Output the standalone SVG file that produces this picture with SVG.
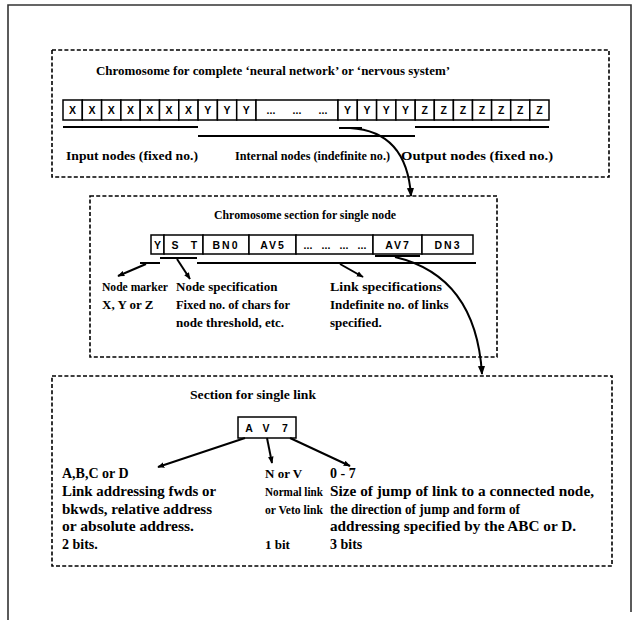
<svg xmlns="http://www.w3.org/2000/svg" width="632" height="620" viewBox="0 0 632 620">
<defs>
<marker id="ah" viewBox="0 0 10 10" refX="9" refY="5" markerWidth="7" markerHeight="7" orient="auto" markerUnits="userSpaceOnUse">
<path d="M0,1 L10,5 L0,9 z" fill="#000"/>
</marker>
<marker id="ahb" viewBox="0 0 10 10" refX="9" refY="5" markerWidth="9" markerHeight="9" orient="auto" markerUnits="userSpaceOnUse">
<path d="M0,1 L10,5 L0,9 z" fill="#000"/>
</marker>
</defs>
<style>
text{font-family:"Liberation Serif","Times New Roman",serif;font-weight:bold;font-size:13px;fill:#000}
.big{font-size:14px}
.cell{fill:#fff;stroke:#000;stroke-width:1.5}
.ct{font-family:"Liberation Sans",Arial,sans-serif;font-size:10.5px;text-anchor:middle}
.box{fill:none;stroke:#000;stroke-width:1.6;stroke-dasharray:4 2.2}
.ul{stroke:#000;stroke-width:2;fill:none}
.ar{stroke:#000;stroke-width:2;fill:none;marker-end:url(#ah)}
.cv{stroke:#000;stroke-width:2;fill:none;marker-end:url(#ahb)}
</style>
<rect width="632" height="620" fill="#fff"/>
<path d="M8,620 V5 H631 V612" fill="none" stroke="#333" stroke-width="1.6"/>

<g id="chromosome-box">
<rect class="box" x="52" y="50" width="557" height="127"/>
<text x="96" y="75" textLength="354" lengthAdjust="spacingAndGlyphs">Chromosome for complete ‘neural network’ or ‘nervous system’</text>
<g id="chromosome-row">
<rect class="cell" x="63" y="100" width="19.3" height="20"/><text class="ct" x="72.6" y="114">X</text>
<rect class="cell" x="82.3" y="100" width="19.3" height="20"/><text class="ct" x="91.9" y="114">X</text>
<rect class="cell" x="101.6" y="100" width="19.3" height="20"/><text class="ct" x="111.2" y="114">X</text>
<rect class="cell" x="120.9" y="100" width="19.3" height="20"/><text class="ct" x="130.5" y="114">X</text>
<rect class="cell" x="140.2" y="100" width="19.3" height="20"/><text class="ct" x="149.8" y="114">X</text>
<rect class="cell" x="159.5" y="100" width="19.3" height="20"/><text class="ct" x="169.1" y="114">X</text>
<rect class="cell" x="178.8" y="100" width="19.3" height="20"/><text class="ct" x="188.4" y="114">X</text>
<rect class="cell" x="198.1" y="100" width="19.3" height="20"/><text class="ct" x="207.7" y="114">Y</text>
<rect class="cell" x="217.4" y="100" width="19.3" height="20"/><text class="ct" x="227" y="114">Y</text>
<rect class="cell" x="236.7" y="100" width="19.3" height="20"/><text class="ct" x="246.3" y="114">Y</text>
<rect class="cell" x="256" y="100" width="82" height="20"/>
<text class="ct" x="271" y="114">...</text><text class="ct" x="297" y="114">...</text><text class="ct" x="323" y="114">...</text>
<rect class="cell" x="338" y="100" width="19.3" height="20"/><text class="ct" x="347.6" y="114">Y</text>
<rect class="cell" x="357.3" y="100" width="19.3" height="20"/><text class="ct" x="366.9" y="114">Y</text>
<rect class="cell" x="376.6" y="100" width="19.3" height="20"/><text class="ct" x="386.2" y="114">Y</text>
<rect class="cell" x="395.9" y="100" width="19.3" height="20"/><text class="ct" x="405.5" y="114">Y</text>
<rect class="cell" x="415.2" y="100" width="19.1" height="20"/><text class="ct" x="424.7" y="114">Z</text>
<rect class="cell" x="434.3" y="100" width="19.1" height="20"/><text class="ct" x="443.8" y="114">Z</text>
<rect class="cell" x="453.4" y="100" width="19.1" height="20"/><text class="ct" x="462.9" y="114">Z</text>
<rect class="cell" x="472.5" y="100" width="19.1" height="20"/><text class="ct" x="482" y="114">Z</text>
<rect class="cell" x="491.6" y="100" width="19.1" height="20"/><text class="ct" x="501.1" y="114">Z</text>
<rect class="cell" x="510.7" y="100" width="19.1" height="20"/><text class="ct" x="520.2" y="114">Z</text>
<rect class="cell" x="529.8" y="100" width="19.2" height="20"/><text class="ct" x="539.4" y="114">Z</text>
</g>
<text x="66" y="160" textLength="132" lengthAdjust="spacingAndGlyphs">Input nodes (fixed no.)</text>
<text x="235" y="160" textLength="155" lengthAdjust="spacingAndGlyphs">Internal nodes (indefinite no.)</text>
<text x="401" y="160" textLength="152" lengthAdjust="spacingAndGlyphs">Output nodes (fixed no.)</text>
</g>

<g id="node-section-box">
<rect class="box" x="90" y="196" width="407" height="161"/>
<text x="214" y="219" textLength="182" lengthAdjust="spacingAndGlyphs">Chromosome section for single node</text>
<g id="node-row">
<rect class="cell" x="151" y="235" width="13" height="19"/><text class="ct" x="157.5" y="249">Y</text>
<rect class="cell" x="164" y="235" width="39" height="19"/><text class="ct" x="175" y="249">S</text><text class="ct" x="194" y="249">T</text>
<rect class="cell" x="203" y="235" width="46" height="19"/><text class="ct" x="226" y="249" letter-spacing="2">BN0</text>
<rect class="cell" x="249" y="235" width="47" height="19"/><text class="ct" x="273" y="249" letter-spacing="2">AV5</text>
<rect class="cell" x="296" y="235" width="77" height="19"/>
<text class="ct" x="308" y="249">...</text><text class="ct" x="326" y="249">...</text><text class="ct" x="344" y="249">...</text><text class="ct" x="362" y="249">...</text>
<rect class="cell" x="373" y="235" width="49" height="19"/><text class="ct" x="398" y="249" letter-spacing="2">AV7</text>
<rect class="cell" x="422" y="235" width="51" height="19"/><text class="ct" x="448" y="249" letter-spacing="2">DN3</text>
</g>
<text x="102" y="291" textLength="66" lengthAdjust="spacingAndGlyphs">Node marker</text>
<text x="102" y="309">X, Y or Z</text>
<text x="176" y="291">Node specification</text>
<text x="176" y="309" textLength="114" lengthAdjust="spacingAndGlyphs">Fixed no. of chars for</text>
<text x="176" y="327">node threshold, etc.</text>
<text x="330" y="291" textLength="112" lengthAdjust="spacingAndGlyphs">Link specifications</text>
<text x="330" y="309">Indefinite no. of links</text>
<text x="330" y="327">specified.</text>
</g>

<g id="link-section-box">
<rect class="box" x="52" y="376" width="560" height="190"/>
<text x="190" y="399" textLength="126" lengthAdjust="spacingAndGlyphs">Section for single link</text>
<g id="link-cell">
<rect class="cell" x="238" y="417" width="58" height="21" stroke-width="1.8"/>
<text class="ct" x="249" y="432">A</text><text class="ct" x="266" y="432">V</text><text class="ct" x="285" y="432">7</text>
</g>
<text class="big" x="62" y="478">A,B,C or D</text>
<text class="big" x="62" y="496" textLength="154" lengthAdjust="spacingAndGlyphs">Link addressing fwds or</text>
<text class="big" x="62" y="514" textLength="150" lengthAdjust="spacingAndGlyphs">bkwds, relative address</text>
<text class="big" x="62" y="531" textLength="132" lengthAdjust="spacingAndGlyphs">or absolute address.</text>
<text class="big" x="62" y="549">2 bits.</text>
<text x="265" y="478">N or V</text>
<text x="265" y="496" textLength="58" lengthAdjust="spacingAndGlyphs">Normal link</text>
<text x="265" y="514" textLength="58" lengthAdjust="spacingAndGlyphs">or Veto link</text>
<text x="265" y="549">1 bit</text>
<text class="big" x="330" y="478">0 - 7</text>
<text class="big" x="330" y="496" textLength="264" lengthAdjust="spacingAndGlyphs">Size of jump of link to a connected node,</text>
<text class="big" x="330" y="514" textLength="190" lengthAdjust="spacingAndGlyphs">the direction of jump and form of</text>
<text class="big" x="330" y="531" textLength="246" lengthAdjust="spacingAndGlyphs">addressing specified by the ABC or D.</text>
<text class="big" x="330" y="549">3 bits</text>
</g>

<g id="connectors">
<line class="ul" x1="63" y1="127" x2="198" y2="127"/>
<line class="ul" x1="198" y1="136" x2="415" y2="136"/>
<line class="ul" x1="339" y1="128" x2="362" y2="128"/>
<line class="ul" x1="415" y1="127" x2="549" y2="127"/>
<path class="cv" d="M350,128 C385,130 408,150 411,196"/>
<line class="ul" x1="140" y1="263" x2="160" y2="263"/>
<line class="ul" x1="160" y1="258" x2="197" y2="258"/>
<line class="ul" x1="197" y1="263" x2="476" y2="263"/>
<line class="ul" x1="375" y1="256" x2="420" y2="256"/>
<path class="ar" d="M146,264 L118,276"/>
<path class="ar" d="M177,259 L190,279"/>
<path class="ar" d="M340,264 L363,277"/>
<path class="cv" d="M395,257 C450,270 478,310 482,374"/>
<path class="ar" d="M245,438 L158,467"/>
<path class="ar" d="M267,438 L272,463"/>
<path class="ar" d="M290,438 L350,466"/>
</g>
</svg>
